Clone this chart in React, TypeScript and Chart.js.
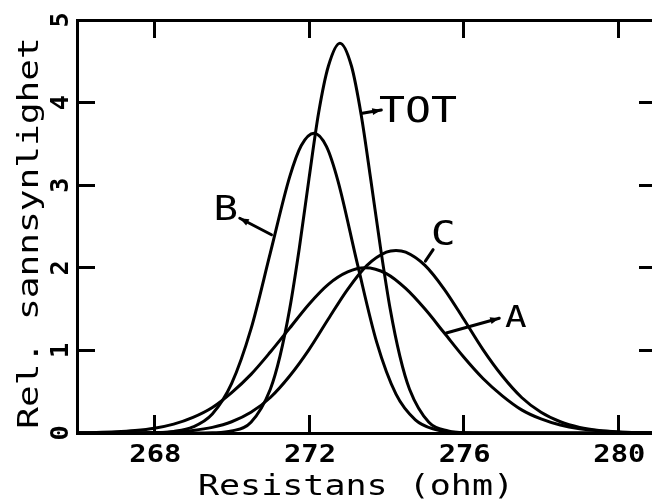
import React, { useEffect, useRef } from 'react';
import { Chart, registerables } from 'chart.js';

Chart.register(...registerables);

// ---- data ----
const xTickValues = [268, 272, 276, 280];
const yTickValues = [0, 1, 2, 3, 4, 5];
const xTitle = 'Resistans (ohm)';
const yTitle = 'Rel. sannsynlighet';

const xTot = [266, 269, 269.5, 270, 270.5, 271, 271.25, 271.5, 271.75, 272, 272.25, 272.5, 272.8, 273.1, 273.35, 273.6, 273.85, 274.1, 274.35, 274.6, 275.1, 275.6, 276, 281];
const yTot = [0, 0, 0.003, 0.024, 0.13, 0.53, 0.93, 1.5, 2.24, 3.08, 3.88, 4.44, 4.72, 4.44, 3.85, 3.06, 2.24, 1.5, 0.93, 0.53, 0.13, 0.024, 0.003, 0];

const xB = [266, 267.5, 268, 268.5, 269, 269.5, 270, 270.5, 271, 271.5, 271.8, 272.13, 272.45, 272.75, 273.25, 273.75, 274.25, 274.75, 275.25, 275.75, 276.5, 281];
const yB = [0, 0, 0.004, 0.019, 0.073, 0.23, 0.6, 1.26, 2.18, 3.1, 3.48, 3.63, 3.47, 3.05, 2.05, 1.1, 0.47, 0.16, 0.044, 0.009, 0, 0];

const xA = [266, 266.5, 267, 267.5, 268, 268.5, 269, 269.5, 270, 270.5, 271, 271.5, 272, 272.5, 273, 273.45, 274, 274.5, 275, 275.5, 276, 276.5, 277, 277.5, 278, 278.5, 279, 279.5, 280, 280.5, 281];
const yA = [0.003, 0.006, 0.014, 0.03, 0.058, 0.108, 0.19, 0.31, 0.49, 0.71, 0.98, 1.27, 1.56, 1.8, 1.95, 2.0, 1.93, 1.75, 1.5, 1.21, 0.92, 0.66, 0.45, 0.28, 0.17, 0.096, 0.051, 0.026, 0.012, 0.005, 0.002];

const xC = [266, 267, 267.5, 268, 268.5, 269, 269.5, 270, 270.5, 271, 271.5, 272, 272.5, 273, 273.5, 274, 274.25, 274.5, 275, 275.5, 276, 276.5, 277, 277.5, 278, 278.5, 279, 279.5, 280, 280.5, 281];
const yC = [0, 0.001, 0.002, 0.005, 0.013, 0.031, 0.068, 0.136, 0.25, 0.43, 0.69, 1.01, 1.38, 1.74, 2.03, 2.19, 2.21, 2.19, 2.03, 1.74, 1.38, 1.01, 0.69, 0.43, 0.25, 0.136, 0.068, 0.031, 0.013, 0.005, 0.002];

// curve labels (text anchor = centre x / baseline y, in data units) and leader lines
const labelTexts = ['TOT', 'B', 'C', 'A'];
const labelAnchors = [
  [274.82, 3.765],
  [269.85, 2.579],
  [275.47, 2.276],
  [277.35, 1.283],
];
const labelSizes = [36, 34, 34, 30];
const leaderFrom = [
  [273.38, 3.87],
  [271.03, 2.4],
  [275.01, 2.08],
  [275.55, 1.21],
];
const leaderTo = [
  [273.87, 3.91],
  [270.21, 2.6],
  [275.21, 2.22],
  [276.92, 1.39],
];
const leaderHead = [true, true, false, true];

const FONT = '"DejaVu Sans Mono", "Liberation Mono", monospace';

function pts(xs: number[], ys: number[]) {
  return xs.map((x, i) => ({ x, y: ys[i] }));
}

function drawStretched(
  ctx: CanvasRenderingContext2D,
  text: string,
  x: number,
  y: number,
  size: number,
  stretch: number,
  rotate: boolean,
  weight: string
) {
  ctx.save();
  ctx.translate(x, y);
  if (rotate) ctx.rotate(-Math.PI / 2);
  ctx.scale(stretch, 1);
  ctx.font = `${weight} ${size}px ${FONT}`;
  ctx.textAlign = 'center';
  ctx.textBaseline = 'alphabetic';
  ctx.fillText(text, 0, 0);
  ctx.restore();
}

const overlay = {
  id: 'overlay',
  afterDraw(chart: any) {
    const ctx: CanvasRenderingContext2D = chart.ctx;
    const xs = chart.scales.x;
    const ys = chart.scales.y;
    const area = chart.chartArea;
    ctx.save();
    ctx.fillStyle = '#000';
    ctx.strokeStyle = '#000';

    // x tick labels
    xs.ticks.forEach((t: any) => {
      drawStretched(ctx, String(t.value), xs.getPixelForValue(t.value) + 1, area.bottom + 28.5, 25, 1.15, false, 'bold');
    });
    // y tick labels (rotated)
    ys.ticks.forEach((t: any) => {
      drawStretched(ctx, String(t.value), area.left - 9, ys.getPixelForValue(t.value), 24, 1.05, true, 'bold');
    });

    // axis titles
    drawStretched(ctx, xTitle, area.left + 279, area.bottom + 62, 28, 1.25, false, 'normal');
    drawStretched(ctx, yTitle, area.left - 39, area.top + 213, 28, 1.29, true, 'normal');

    // curve labels
    labelTexts.forEach((txt, i) => {
      const px = xs.getPixelForValue(labelAnchors[i][0]);
      const py = ys.getPixelForValue(labelAnchors[i][1]);
      drawStretched(ctx, txt, px, py, labelSizes[i], 1.2, false, 'normal');
      const x1 = xs.getPixelForValue(leaderFrom[i][0]);
      const y1 = ys.getPixelForValue(leaderFrom[i][1]);
      const x2 = xs.getPixelForValue(leaderTo[i][0]);
      const y2 = ys.getPixelForValue(leaderTo[i][1]);
      ctx.lineWidth = 3;
      ctx.lineCap = 'round';
      ctx.beginPath();
      ctx.moveTo(x1, y1);
      ctx.lineTo(x2, y2);
      ctx.stroke();
      if (leaderHead[i]) {
        const ang = Math.atan2(y2 - y1, x2 - x1);
        const L = 9;
        const W = 3.5;
        ctx.beginPath();
        ctx.moveTo(x2, y2);
        ctx.lineTo(x2 - L * Math.cos(ang) + W * Math.sin(ang), y2 - L * Math.sin(ang) - W * Math.cos(ang));
        ctx.lineTo(x2 - L * Math.cos(ang) - W * Math.sin(ang), y2 - L * Math.sin(ang) + W * Math.cos(ang));
        ctx.closePath();
        ctx.fill();
      }
    });
    ctx.restore();
  },
};

function axisCommon(values: number[]) {
  return {
    afterBuildTicks: (scale: any) => {
      scale.ticks = values.map((v) => ({ value: v }));
    },
    grid: {
      drawOnChartArea: false,
      drawTicks: true,
      tickLength: -18,
      tickWidth: 3,
      color: '#000',
    },
    border: { display: true, width: 3, color: '#000' },
    ticks: { display: false },
  };
}

export default function App() {
  const ref = useRef<HTMLCanvasElement | null>(null);

  useEffect(() => {
    if (!ref.current) return;
    const line = (data: any) => ({
      data,
      borderColor: '#000',
      borderWidth: 3,
      pointRadius: 0,
      fill: false,
      cubicInterpolationMode: 'monotone' as const,
    });
    const chart = new Chart(ref.current, {
      type: 'line',
      data: {
        datasets: [
          { label: 'A', ...line(pts(xA, yA)) },
          { label: 'B', ...line(pts(xB, yB)) },
          { label: 'C', ...line(pts(xC, yC)) },
          { label: 'TOT', ...line(pts(xTot, yTot)) },
        ],
      },
      options: {
        responsive: false,
        maintainAspectRatio: false,
        animation: false,
        layout: { padding: { left: 0, top: 20, right: 13, bottom: 0 } },
        plugins: { legend: { display: false }, tooltip: { enabled: false } },
        scales: {
          x: {
            type: 'linear',
            position: 'bottom',
            min: 266,
            max: 281,
            ...axisCommon(xTickValues),
            afterFit: (s: any) => { s.height = 68; },
          },
          x2: {
            type: 'linear',
            position: 'top',
            min: 266,
            max: 281,
            ...axisCommon(xTickValues),
            afterFit: (s: any) => { s.height = 0; },
          },
          y: {
            type: 'linear',
            position: 'left',
            min: 0,
            max: 5,
            ...axisCommon(yTickValues),
            afterFit: (s: any) => { s.width = 77; },
          },
          y2: {
            type: 'linear',
            position: 'right',
            min: 0,
            max: 5,
            ...axisCommon(yTickValues),
            afterFit: (s: any) => { s.width = 0; },
          },
        },
      } as any,
      plugins: [overlay],
    });
    return () => chart.destroy();
  }, []);

  return (
    <div
      style={{
        position: 'fixed',
        left: 0,
        top: 0,
        width: 652,
        height: 501,
        overflow: 'hidden',
        background: '#fff',
      }}
    >
      <canvas ref={ref} width={670} height={501} style={{ display: 'block', width: 670, height: 501 }} />
    </div>
  );
}
